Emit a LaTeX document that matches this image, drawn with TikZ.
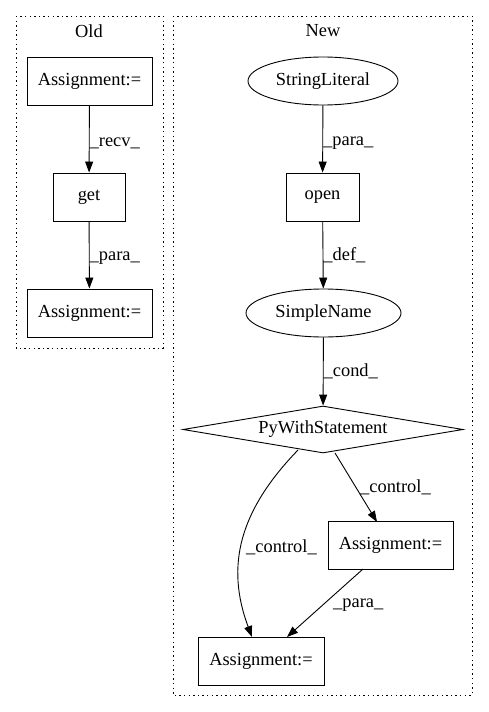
\documentclass[tikz,border=0pt]{standalone}
\usepackage{fontspec}
\setmainfont{Liberation Serif}
\usetikzlibrary{shapes.geometric,arrows.meta}
\begin{document}
\begin{tikzpicture}[x=1pt,y=-1pt,
  every node/.style={font=\fontsize{18.4}{21}\selectfont, inner sep=0pt},
  boxnode/.style={draw, line width=0.9pt, minimum height=48pt},
  ovalnode/.style={draw, ellipse, line width=0.9pt, minimum height=48pt},
  decision/.style={draw, diamond, line width=0.9pt, aspect=6},
  cluster/.style={draw, line width=0.9pt, dash pattern=on 1.4pt off 3.2pt},
  edge/.style={line width=0.9pt, -{Triangle[length=11pt,width=8pt]}},
  elabel/.style={anchor=west}]
\useasboundingbox (0,0) rectangle (488,712);
\fill[white] (0,0) rectangle (488,712);

% clusters
\draw[cluster] (16,16) rectangle (163,348);
\node at (89,31) {Old};
\draw[cluster] (173,16) rectangle (472,695);
\node at (323,31) {New};

% Old graph
\node[boxnode, minimum width=125pt] (oa1) at (89.5,81) {Assignment:=};
\node[boxnode, minimum width=72pt] (oget) at (89,197) {get};
\node[boxnode, minimum width=125pt] (oa2) at (89.5,313) {Assignment:=};
\draw[edge] (oa1) -- node[elabel, pos=0.56] {\_recv\_} (oget);
\draw[edge] (oget) -- node[elabel, pos=0.55] {\_para\_} (oa2);

% New graph
\node[ovalnode, minimum width=150pt] (sl) at (323,81) {StringLiteral};
\node[boxnode, minimum width=73pt] (open) at (322.5,197) {open};
\node[ovalnode, minimum width=155pt] (sn) at (323.5,313) {SimpleName};
\node[decision, minimum width=280pt, minimum height=47pt] (pw) at (323,429.5) {PyWithStatement};
\node[boxnode, minimum width=125pt] (na1) at (390.5,545.5) {Assignment:=};
\node[boxnode, minimum width=126pt] (na2) at (261,661) {Assignment:=};

\draw[edge] (sl) -- node[elabel, pos=0.56] {\_para\_} (open);
\draw[edge] (open) -- node[elabel, pos=0.5] {\_def\_} (sn);
\draw[edge] (sn) -- node[elabel, pos=0.5] {\_cond\_} (pw);
\coordinate (pwr) at (335,453);
\draw[edge] (pwr) -- (377,522);
\node[elabel] (lc1) at (360,487) {\_control\_};
\coordinate (pwl) at (298,450);
\draw[edge] (pwl) .. controls (240,510) and (225,565) .. (252,637);
\node[elabel] (lc2) at (246,547) {\_control\_};
\coordinate (na1b) at (363,569);
\draw[edge] (na1b) -- (287,637);
\node[elabel] (lp) at (333,605) {\_para\_};
\end{tikzpicture}
\end{document}
